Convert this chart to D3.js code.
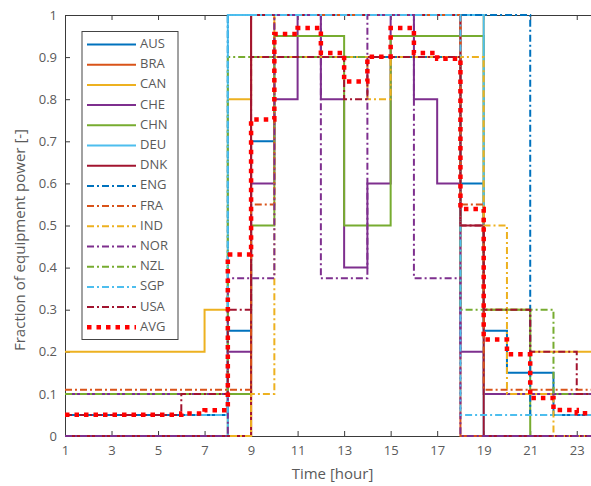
<!DOCTYPE html>
<html>
<head>
<meta charset="utf-8">
<script src="https://cdn.jsdelivr.net/npm/d3@7"></script>
<style>
html,body{margin:0;padding:0;background:#fff;overflow:hidden;}
svg{display:block;}
text{font-family:"Open Sans","Noto Sans",sans-serif;}
</style>
</head>
<body>
<div id="chart"></div>
<script>
// ---------------- data ----------------
const hours = [1,2,3,4,5,6,7,8,9,10,11,12,13,14,15,16,17,18,19,20,21,22,23,24];
const xTicks = [1,3,5,7,9,11,13,15,17,19,21,23];
const yTicks = [0,0.1,0.2,0.3,0.4,0.5,0.6,0.7,0.8,0.9,1];
const names = ["AUS","BRA","CAN","CHE","CHN","DEU","DNK","ENG","FRA","IND","NOR","NZL","SGP","USA","AVG"];

const AUS = [0.05,0.05,0.05,0.05,0.05,0.05,0.05,0.25,0.7,0.9,0.9,0.9,0.9,0.9,0.9,0.9,0.9,0.6,0.25,0.15,0.15,0.05,0.05,0.05];
const BRA = [0,0,0,0,0,0,0,0,1,1,1,1,1,1,1,1,1,0,0,0,0,0,0,0];
const CAN = [0.2,0.2,0.2,0.2,0.2,0.2,0.3,0.8,0.9,1,1,1,1,1,1,1,1,1,0.3,0.3,0.2,0.2,0.2,0.2];
const CHE = [0.1,0.1,0.1,0.1,0.1,0.1,0.1,0.2,0.6,0.8,1,0.8,0.4,0.6,1,0.8,0.6,0.2,0.1,0.1,0.1,0.1,0.1,0.1];
const CHN = [0,0,0,0,0,0,0,0.1,0.5,0.95,0.95,0.95,0.5,0.5,0.95,0.95,0.95,0.95,0.3,0.3,0,0,0,0];
const DEU = [0,0,0,0,0,0,0,1,1,1,1,1,1,1,1,1,1,1,0,0,0,0,0,0];
const DNK = [0,0,0,0,0,0,0,0,1,1,1,1,1,1,1,1,1,0.5,0,0,0,0,0,0];
const ENG = [0.05,0.05,0.05,0.05,0.05,0.05,0.05,1,1,1,1,1,1,1,1,1,1,1,1,1,0.05,0.05,0.05,0.05];
const FRA = [0.11,0.11,0.11,0.11,0.11,0.11,0.11,0.11,0.55,1,1,1,1,1,1,1,1,0.55,0.11,0.11,0.11,0.11,0.11,0.11];
const IND = [0,0,0,0,0,0,0,0,0.1,0.9,0.9,0.9,0.9,0.8,0.9,0.9,0.9,0.9,0.5,0.1,0.1,0,0,0];
const NOR = [0,0,0,0,0,0,0,0.375,0.375,1,1,0.375,0.375,1,1,0.375,0.375,0,0,0,0,0,0,0];
const NZL = [0.1,0.1,0.1,0.1,0.1,0.1,0.1,0.9,0.9,0.9,0.9,0.9,0.9,0.9,0.9,0.9,0.9,0.3,0.3,0.3,0.3,0.1,0.1,0.1];
const SGP = [0.05,0.05,0.05,0.05,0.05,0.05,0.05,1,1,1,1,1,1,1,1,1,1,0.05,0.05,0.05,0.05,0.05,0.05,0.05];
const USA = [0.05,0.05,0.05,0.05,0.05,0.1,0.1,0.3,0.9,0.9,0.9,0.9,0.8,0.9,0.9,0.9,0.9,0.5,0.3,0.3,0.2,0.2,0.1,0.1];
const AVG = [0.0507,0.0507,0.0507,0.0507,0.0507,0.0536,0.0614,0.431,0.752,0.955,0.969,0.91,0.842,0.901,0.969,0.91,0.896,0.539,0.229,0.194,0.09,0.062,0.054,0.054];

const seriesValues = [AUS,BRA,CAN,CHE,CHN,DEU,DNK,ENG,FRA,IND,NOR,NZL,SGP,USA,AVG];
const colors = ["#0072BD","#D95319","#EDB120","#7E2F8E","#77AC30","#4DBEEE","#A2142F",
                "#0072BD","#D95319","#EDB120","#7E2F8E","#77AC30","#4DBEEE","#A2142F","#FF0000"];
const styles = ["solid","solid","solid","solid","solid","solid","solid",
                "dashdot","dashdot","dashdot","dashdot","dashdot","dashdot","dashdot","dotted"];

// ---------------- layout ----------------
const W = 620, H = 486;
const m = {left:65, top:15, right:600, bottom:436};
const svg = d3.select("#chart").append("svg").attr("width",W).attr("height",H);

const x = d3.scaleLinear().domain([1,24]).range([m.left,m.right]);
const y = d3.scaleLinear().domain([0,1]).range([m.bottom,m.top]);

const axisColor = "#3a3a3a";
const labelColor = "#5a5a5a";

// axes (drawn below the data)
const gx = svg.append("g").attr("transform",`translate(0,${m.bottom})`)
  .call(d3.axisBottom(x).tickValues(xTicks).tickSizeInner(-5).tickSizeOuter(0).tickPadding(10).tickFormat(d3.format("d")));
const gxt = svg.append("g").attr("transform",`translate(0,${m.top})`)
  .call(d3.axisTop(x).tickValues(xTicks).tickSizeInner(-5).tickSizeOuter(0).tickFormat(""));
const gy = svg.append("g").attr("transform",`translate(${m.left},0)`)
  .call(d3.axisLeft(y).tickValues(yTicks).tickSizeInner(-5).tickSizeOuter(0).tickPadding(8).tickFormat(d=>d3.format("~g")(d)));
[gx,gxt,gy].forEach(g=>{
  g.select(".domain").attr("stroke",axisColor).attr("stroke-width",1);
  g.selectAll(".tick line").attr("stroke",axisColor).attr("stroke-width",1);
  g.selectAll(".tick text").attr("fill",labelColor).style("font-size","13px").style("font-family","'Open Sans','Noto Sans',sans-serif");
});

// axis titles
svg.append("text").attr("x",(m.left+m.right)/2).attr("y",479).attr("text-anchor","middle")
  .attr("fill",labelColor).style("font-size","15px").text("Time [hour]");
svg.append("text").attr("transform","translate(21,240) rotate(-90)").attr("text-anchor","middle")
  .attr("dominant-baseline","middle").attr("fill",labelColor).style("font-size","15px").text("Fraction of equipment power [-]");

// clip
svg.append("defs").append("clipPath").attr("id","clip").append("rect")
  .attr("x",m.left-1).attr("y",m.top-3).attr("width",m.right-m.left+2).attr("height",m.bottom-m.top+6);

const dashFor = s => s==="dashdot" ? "7,3,2,3" : (s==="dotted" ? "4.5,5" : null);
const widthFor = s => s==="dotted" ? 4.5 : 2;

const line = d3.line().x(d=>x(d[0])).y(d=>y(d[1])).curve(d3.curveStepAfter);
const gLines = svg.append("g").attr("clip-path","url(#clip)");
seriesValues.forEach((vals,i)=>{
  const pts = hours.map((h,k)=>[h,vals[k]]);
  pts.push([hours[hours.length-1]+1, vals[vals.length-1]]);
  gLines.append("path").datum(pts).attr("d",line)
    .attr("fill","none").attr("stroke",colors[i]).attr("stroke-width",widthFor(styles[i]))
    .attr("stroke-dasharray",dashFor(styles[i])).attr("stroke-linejoin","miter");
});

// legend
const lg = svg.append("g");
const lx = 82, ly = 31.5, lw = 96, lh = 308;
lg.append("rect").attr("x",lx).attr("y",ly).attr("width",lw).attr("height",lh)
  .attr("fill","#fff").attr("stroke","#444").attr("stroke-width",1);
names.forEach((n,i)=>{
  const yy = 44.5 + i*20.2;
  lg.append("line").attr("x1",87).attr("x2",136).attr("y1",yy).attr("y2",yy)
    .attr("stroke",colors[i]).attr("stroke-width",widthFor(styles[i]))
    .attr("stroke-dasharray",dashFor(styles[i]));
  lg.append("text").attr("x",140).attr("y",yy).attr("dominant-baseline","middle")
    .attr("fill",labelColor).style("font-size","13px").text(n);
});
</script>
</body>
</html>
